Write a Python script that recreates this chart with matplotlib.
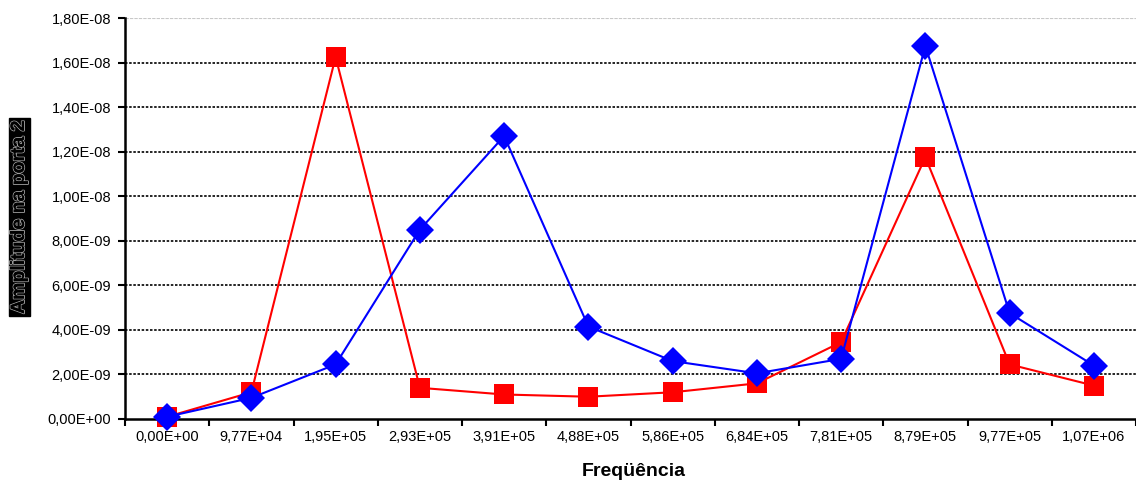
import matplotlib
matplotlib.use('Agg')
import matplotlib.pyplot as plt
import matplotlib.patheffects as pe
from matplotlib.ticker import FuncFormatter, MultipleLocator
import numpy as np

plt.rcParams['font.family'] = ['Liberation Sans', 'DejaVu Sans']

# Data
freq_labels = ['0,00E+00', '9,77E+04', '1,95E+05', '2,93E+05', '3,91E+05', '4,88E+05',
               '5,86E+05', '6,84E+05', '7,81E+05', '8,79E+05', '9,77E+05', '1,07E+06']
red_vals = [0.10e-9, 1.20e-9, 16.25e-9, 1.40e-9, 1.10e-9, 1.00e-9,
            1.20e-9, 1.60e-9, 3.45e-9, 11.75e-9, 2.45e-9, 1.50e-9]
blue_vals = [0.10e-9, 0.95e-9, 2.45e-9, 8.50e-9, 12.70e-9, 4.15e-9,
             2.60e-9, 2.05e-9, 2.70e-9, 16.75e-9, 4.75e-9, 2.40e-9]

# Excel style "1,80E-08" labels
def sci_comma(v, pos):
    mant, exp = ('%.2E' % v).split('E')
    return mant.replace('.', ',') + 'E' + exp[0] + exp[1:].zfill(2)

fig = plt.figure(figsize=(11.36, 4.83), dpi=100)
ax = fig.add_axes([125 / 1136, 64 / 483, 1011 / 1136, 401 / 483])

x = np.arange(len(freq_labels))
ax.plot(x, red_vals, color='#ff0000', lw=1.5, marker='s', markersize=14,
        markeredgewidth=0, zorder=3, clip_on=False)
ax.plot(x, blue_vals, color='#0000ff', lw=1.5, marker='D', markersize=14.5,
        markeredgewidth=0, zorder=4, clip_on=False)

ax.set_xlim(-0.5, len(freq_labels) - 0.5)
ax.set_ylim(0, 1.8e-8)
ax.yaxis.set_major_locator(MultipleLocator(2e-9))
ax.yaxis.set_major_formatter(FuncFormatter(sci_comma))

# gridlines
for yv in np.arange(2e-9, 1.7e-8, 2e-9):
    ax.axhline(yv, color='black', lw=1.2, ls=(0, (1.5, 1)), zorder=1)
ax.axhline(1.8e-8, color='#c8c8c8', lw=0.8, ls=(0, (3, 1)), zorder=1)

# x ticks between categories, labels at centers
ax.set_xticks(np.arange(-0.5, len(freq_labels)), minor=False)
ax.set_xticklabels([])
ax.set_xticks(x, minor=True)
ax.set_xticklabels(freq_labels, minor=True, fontsize=10.5)
ax.tick_params(axis='x', which='major', direction='out', length=5, width=1.5)
ax.tick_params(axis='x', which='minor', length=0, pad=8)
ax.tick_params(axis='y', direction='out', length=5, width=1.5, labelsize=10.5, pad=5)

for side in ['top', 'right']:
    ax.spines[side].set_visible(False)
ax.spines['left'].set_linewidth(1.8)
ax.spines['bottom'].set_linewidth(1.8)

fig.text(634 / 1136, 1 - 472 / 483, 'Freqüência', ha='center', va='center',
         fontsize=14, fontweight='bold')
fig.text(19.5 / 1136, 1 - 217 / 483, 'Amplitude na porta 2', ha='center', va='center',
         rotation=90, fontsize=14, fontweight='bold', color='black',
         path_effects=[pe.withStroke(linewidth=1.3, foreground='#a0a0a0'),
                       pe.Normal()],
         bbox=dict(facecolor='black', edgecolor='black', pad=1.5))

fig.savefig('out.png', dpi=100)
